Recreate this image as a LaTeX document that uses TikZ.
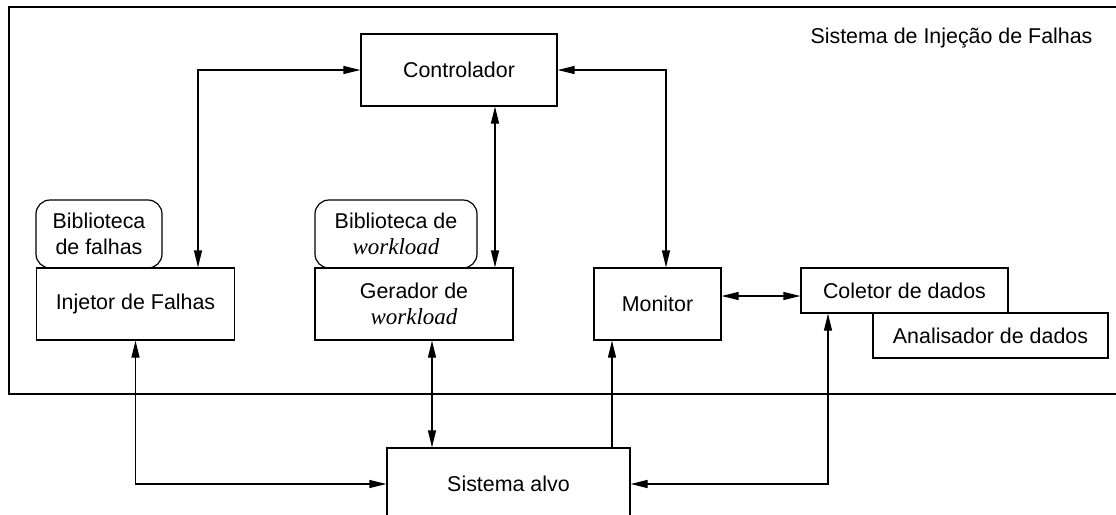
\documentclass[tikz,border=0pt]{standalone}
\usepackage{fontspec}
\setmainfont{Liberation Sans}
\newfontfamily\wlfont{Liberation Serif}
\usetikzlibrary{arrows.meta}
\newcommand{\wl}{{\wlfont\itshape\fontsize{11.5}{13}\selectfont workload}}
\tikzset{
  x=0.5pt, y=-0.5pt,
  box/.style={draw, line width=0.6pt, fill=white, inner sep=0pt, align=center,
    font=\fontsize{10.7}{13}\selectfont},
  lib/.style={box, rounded corners=7pt},
  conn/.style={line width=0.6pt, {Triangle[length=8.5pt,width=4pt]}-{Triangle[length=8.5pt,width=4pt]}},
  conn1/.style={line width=0.6pt, -{Triangle[length=8.5pt,width=4pt]}},
}
\begin{document}
\begin{tikzpicture}
\useasboundingbox (0,0) rectangle (1116,515);
\clip (0,0) rectangle (1116,515);
% outer frame
\draw[line width=0.6pt] (1125,7) -- (9,7) -- (9,394) -- (1125,394);
\node[font=\fontsize{10.7}{13}\selectfont] (title) at (951.5,38) {Sistema de Injeção de Falhas};

\node[box, minimum width=98pt, minimum height=36pt] (ctrl) at (459,70) {Controlador};
\node[lib, minimum width=63pt, minimum height=34pt] (bibf) at (99,234) {Biblioteca\\de falhas};
\node[lib, minimum width=81pt, minimum height=34pt] (bibw) at (396,234) {Biblioteca de\\\wl};
\node[box, minimum width=99pt, minimum height=36pt] (inj) at (135.5,304) {Injetor de Falhas};
\node[box, minimum width=99pt, minimum height=36pt] (ger) at (414,304) {Gerador de\\\wl};
\node[box, minimum width=63.5pt, minimum height=36pt] (mon) at (657.5,304) {Monitor};
\node[box, minimum width=103.5pt, minimum height=22.5pt] (col) at (904.5,290.5) {Coletor de dados};
\node[box, minimum width=117.5pt, minimum height=22.5pt] (ana) at (990.5,335.5) {Analisador de dados};
\node[box, minimum width=121.5pt, minimum height=36pt] (alvo) at (508.5,484) {Sistema alvo};

\coordinate (c1) at (198,0);
\coordinate (c2) at (495,0);
\coordinate (c3) at (666,0);
\coordinate (c4) at (0,296);
\coordinate (c6) at (432,0);
\coordinate (c7) at (612,0);
\coordinate (c8) at (828,0);

\draw[conn] (ctrl.west) -| (inj.north -| c1);
\draw[conn] (ctrl.south -| c2) -- (ger.north -| c2);
\draw[conn] (ctrl.east) -| (mon.north -| c3);
\draw[conn] (mon.east |- c4) -- (col.west |- c4);
\draw[conn] (inj.south) |- (alvo.west);
\draw[conn] (ger.south -| c6) -- (alvo.north -| c6);
\draw[conn1] (alvo.north -| c7) -- (mon.south -| c7);
\draw[conn] (col.south -| c8) |- (alvo.east);
\end{tikzpicture}
\end{document}
